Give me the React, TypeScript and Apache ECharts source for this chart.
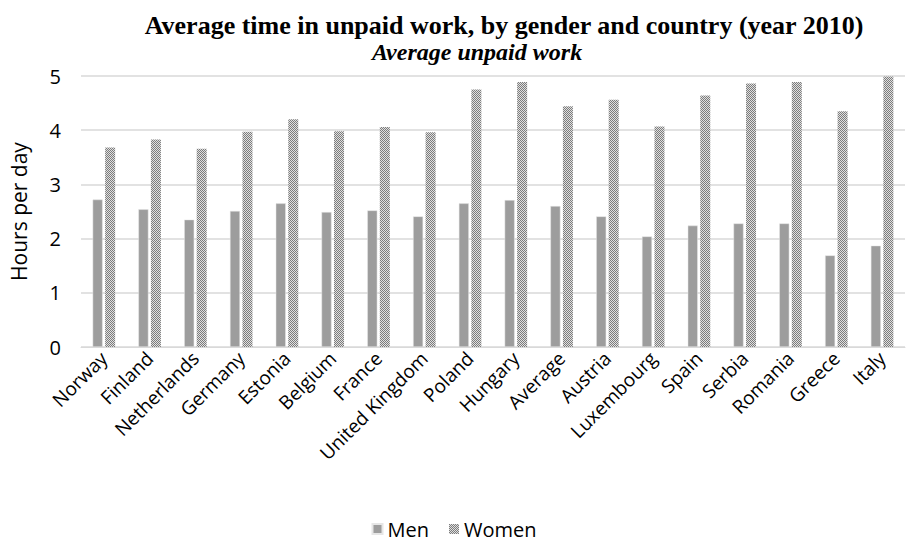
import React, { useEffect, useRef } from "react";
import * as echarts from "echarts";

const categories = [
  "Norway", "Finland", "Netherlands", "Germany", "Estonia", "Belgium", "France",
  "United Kingdom", "Poland", "Hungary", "Average", "Austria", "Luxembourg",
  "Spain", "Serbia", "Romania", "Greece", "Italy",
];
const menValues = [2.72, 2.54, 2.35, 2.51, 2.65, 2.49, 2.52, 2.41, 2.65, 2.71, 2.6, 2.41, 2.04, 2.24, 2.28, 2.28, 1.69, 1.87];
const womenValues = [3.68, 3.83, 3.66, 3.97, 4.2, 3.98, 4.06, 3.96, 4.75, 4.89, 4.44, 4.56, 4.07, 4.64, 4.86, 4.89, 4.35, 4.99];
const yTicks = [0, 1, 2, 3, 4, 5];

const titleText = "Average time in unpaid work, by gender and country (year 2010)";
const subtitleText = "Average unpaid work";

function makePattern(): string {
  const c = document.createElement("canvas");
  c.width = 2;
  c.height = 2;
  const ctx = c.getContext("2d")!;
  ctx.fillStyle = "#e0e0e0";
  ctx.fillRect(0, 0, 2, 2);
  ctx.fillStyle = "#7c7c7c";
  ctx.fillRect(0, 0, 1, 1);
  ctx.fillRect(1, 1, 1, 1);
  return c.toDataURL();
}

export default function App() {
  const ref = useRef<HTMLDivElement>(null);
  useEffect(() => {
    if (!ref.current) return;
    const chart = echarts.init(ref.current, undefined, { renderer: "svg" });
    const pattern = { image: makePattern(), repeat: "repeat" } as any;
    const font = "'Open Sans', sans-serif";
    chart.setOption({
      animation: false,
      backgroundColor: "#ffffff",
      title: [
        {
          text: titleText,
          left: 499,
          top: 7,
          textAlign: "center",
          textStyle: { fontFamily: "'Liberation Serif', serif", fontWeight: "bold", fontSize: 26, color: "#000" },
        },
        {
          text: subtitleText,
          left: 472,
          top: 35,
          textAlign: "center",
          textStyle: { fontFamily: "'Liberation Serif', serif", fontWeight: "bold", fontStyle: "italic", fontSize: 24, color: "#000" },
        },
      ],
      legend: {
        bottom: 2,
        left: "center",
        icon: "rect",
        itemWidth: 10,
        itemHeight: 10,
        itemGap: 20,
        padding: [2, 5, 2, 5],
        textStyle: { fontFamily: font, fontSize: 20, color: "#000", lineHeight: 24 },
        data: ["Men", "Women"],
      },
      grid: { left: 73, right: 3, top: 76, bottom: 198, containLabel: false },
      xAxis: {
        type: "category",
        data: categories,
        axisTick: { show: false },
        axisLine: { lineStyle: { color: "#d9d9d9", width: 1 } },
        axisLabel: { rotate: 45, interval: 0, fontFamily: font, fontSize: 19, color: "#000", margin: 8 },
      },
      yAxis: {
        type: "value",
        min: yTicks[0],
        max: yTicks[yTicks.length - 1],
        interval: 1,
        name: "Hours per day",
        nameLocation: "middle",
        nameGap: 52,
        nameTextStyle: { fontFamily: font, fontSize: 21, color: "#000" },
        axisLabel: { fontFamily: font, fontSize: 20, color: "#000", margin: 20 },
        splitLine: { lineStyle: { color: "#d9d9d9", width: 1.5 } },
        axisLine: { show: false },
        axisTick: { show: false },
      },
      series: [
        {
          name: "Men",
          type: "bar",
          data: menValues,
          barWidth: 10,
          barGap: "25%",
          itemStyle: { color: "#9d9d9d", borderColor: "#e6e6e6", borderWidth: 0.5 },
        },
        {
          name: "Women",
          type: "bar",
          data: womenValues,
          barWidth: 10,
          itemStyle: { color: pattern },
        },
      ],
    });
    return () => chart.dispose();
  }, []);
  return <div ref={ref} style={{ position: "fixed", left: 0, top: 0, width: 908, height: 545 }} />;
}
